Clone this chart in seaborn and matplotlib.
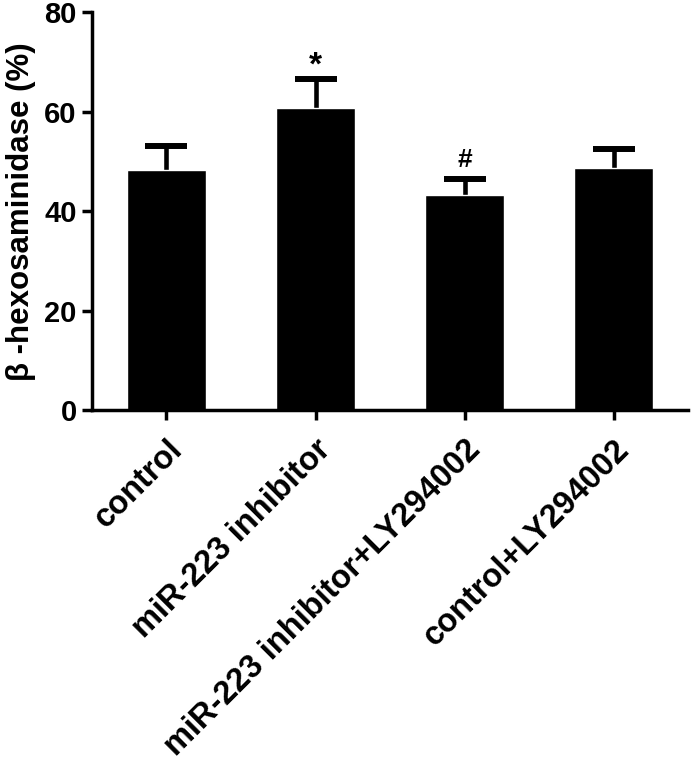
import matplotlib
matplotlib.use("Agg")
import matplotlib.pyplot as plt
import seaborn as sns
import pandas as pd
import numpy as np

categories = ["control", "miR-223 inhibitor", "miR-223 inhibitor+LY294002", "control+LY294002"]
means = [48.3, 60.8, 43.3, 48.7]
sems = [4.8, 5.7, 3.2, 3.8]
annotations = ["", "*", "#", ""]

sns.set_theme(style="ticks")
plt.rcParams['font.family'] = ['Liberation Sans', 'DejaVu Sans']
plt.rcParams['font.weight'] = 'bold'
plt.rcParams['text.color'] = 'black'
plt.rcParams['axes.labelcolor'] = 'black'
plt.rcParams['xtick.color'] = 'black'
plt.rcParams['ytick.color'] = 'black'

df = pd.DataFrame({"group": categories, "value": means})

fig = plt.figure(figsize=(6.91, 7.68), dpi=100)
ax = fig.add_axes([0.133, 0.466, 0.863, 0.518])

sns.barplot(data=df, x="group", y="value", color="black", width=0.53,
            saturation=1, ax=ax, errorbar=None, zorder=2)
xs = np.arange(len(categories))
eb = ax.errorbar(xs, means, yerr=[np.zeros(len(sems)), sems], fmt="none",
                 ecolor="black", elinewidth=3.3, capsize=15, capthick=4.3,
                 zorder=1)
# hide the lower caps (which sit on the bar tops)
for cl in eb[1]:
    yd = np.asarray(cl.get_ydata())
    if np.allclose(yd, means):
        cl.set_visible(False)

sym_style = {"*": (24, 1.0), "#": (19, 2.4)}
for x, m, s, a in zip(xs, means, sems, annotations):
    if a:
        fs, off = sym_style[a]
        ax.text(x, m + s + off, a, ha="center", va="baseline",
                fontsize=fs, fontweight="bold", color="black")

ax.set_xlim(-0.5, 3.5)
ax.set_ylim(0, 80)
ax.set_yticks([0, 20, 40, 60, 80])
ax.set_ylabel("β -hexosaminidase (%)", fontsize=22.5, fontweight="bold", labelpad=6)
ax.set_xlabel("")
for side in ["top", "right"]:
    ax.spines[side].set_visible(False)
for side in ["left", "bottom"]:
    ax.spines[side].set_linewidth(2.5)
    ax.spines[side].set_color("black")
ax.tick_params(axis="both", width=2.5, length=7, color="black")
ax.tick_params(axis="y", labelsize=21, pad=4)
ax.tick_params(axis="x", labelsize=23.5, pad=10)
plt.setp(ax.get_xticklabels(), rotation=45, ha="right", rotation_mode="anchor",
         fontweight="bold")
plt.setp(ax.get_yticklabels(), fontweight="bold")

fig.savefig("out.png", dpi=100)
